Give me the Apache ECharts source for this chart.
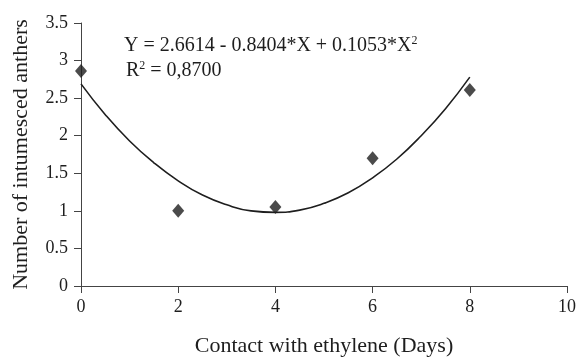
<!DOCTYPE html>
<html>
<head>
<meta charset="utf-8">
<script src="https://cdn.jsdelivr.net/npm/echarts@6/dist/echarts.min.js"></script>
<style>
  html, body { margin: 0; padding: 0; background: #fff; }
  #chart { width: 579px; height: 363px; }
</style>
</head>
<body>
<div id="chart"></div>
<script>
// observed points
const days = [0, 2, 4, 6, 8];
const anthers = [2.86, 1.0, 1.05, 1.7, 2.61];

// fitted curve
const fitX = [0, 0.5, 1, 1.5, 2, 2.5, 3, 3.5, 4, 4.5, 5, 5.5, 6, 6.5, 7, 7.5, 8];
const fitY = [2.69, 2.28, 1.93, 1.64, 1.40, 1.21, 1.08, 1.0, 0.98, 1.01, 1.10, 1.24, 1.44, 1.69, 2.0, 2.36, 2.78];

const xTicks = [0, 2, 4, 6, 8, 10];
const yTicks = [0, 0.5, 1, 1.5, 2, 2.5, 3, 3.5];

const font = '"Liberation Serif", "DejaVu Serif", serif';
const ink = '#1e1e1e';

const chart = echarts.init(document.getElementById('chart'));

const axisCommon = {
  axisLine: { show: true, lineStyle: { color: '#444', width: 1 } },
  axisTick: { show: true, length: 7, lineStyle: { color: '#444' } },
  splitLine: { show: false },
  axisLabel: { color: ink, fontFamily: font, fontSize: 18 },
  nameTextStyle: { color: ink, fontFamily: font, fontSize: 22 }
};

chart.setOption({
  animation: false,
  backgroundColor: '#fff',
  grid: { left: 81, right: 11, top: 23, bottom: 77 },
  xAxis: {
    ...axisCommon,
    type: 'value',
    min: xTicks[0],
    max: xTicks[xTicks.length - 1],
    interval: 2,
    name: 'Contact with ethylene (Days)',
    nameLocation: 'middle',
    nameGap: 49,
    axisLabel: { ...axisCommon.axisLabel, margin: 12 }
  },
  yAxis: {
    ...axisCommon,
    type: 'value',
    min: yTicks[0],
    max: yTicks[yTicks.length - 1],
    interval: 0.5,
    name: 'Number of intumesced anthers',
    nameLocation: 'middle',
    nameGap: 49,
    axisLabel: { ...axisCommon.axisLabel, margin: 13 }
  },
  graphic: [
    {
      type: 'text',
      left: 124,
      top: 35,
      style: {
        text: 'Y = 2.6614 - 0.8404*X + 0.1053*X{s|2}',
        font: '20px ' + font,
        fill: ink,
        rich: { s: { fontSize: 12, padding: [0, 0, 9, 0], fontFamily: font, fill: ink } }
      }
    },
    {
      type: 'text',
      left: 126,
      top: 60,
      style: {
        text: 'R{s|2} = 0,8700',
        font: '20px ' + font,
        fill: ink,
        rich: { s: { fontSize: 12, padding: [0, 0, 9, 0], fontFamily: font, fill: ink } }
      }
    }
  ],
  series: [
    {
      type: 'line',
      data: fitX.map((x, i) => [x, fitY[i]]),
      smooth: true,
      showSymbol: false,
      lineStyle: { color: ink, width: 1.6 },
      z: 2
    },
    {
      type: 'scatter',
      data: days.map((d, i) => [d, anthers[i]]),
      symbol: 'diamond',
      symbolSize: [12, 14],
      itemStyle: { color: ink },
      z: 3
    }
  ]
});
</script>
</body>
</html>
